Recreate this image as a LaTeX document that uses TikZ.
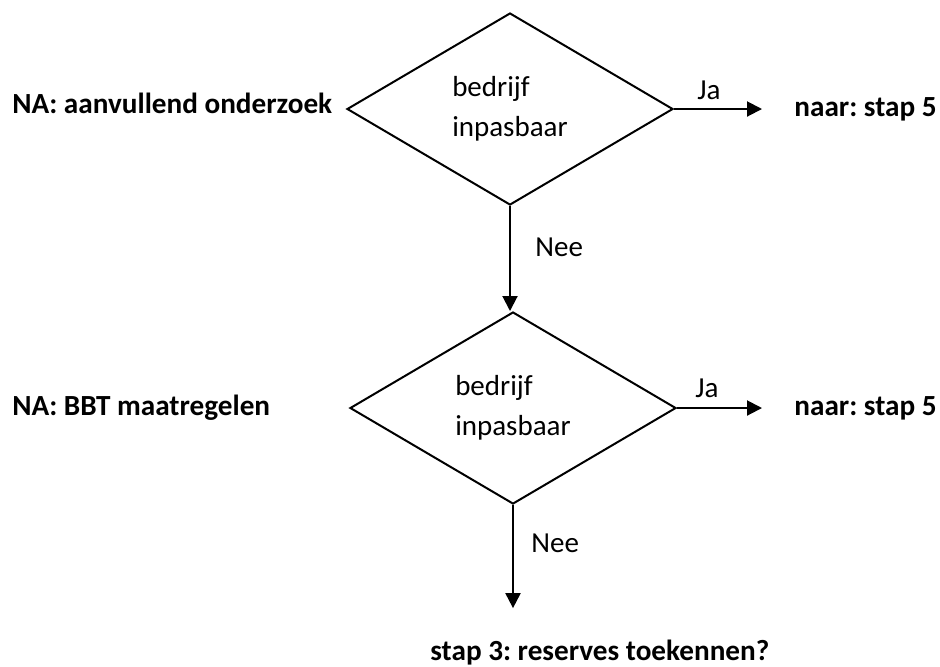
\documentclass[tikz,border=0pt]{standalone}
\usepackage{fontspec}
\setmainfont{Carlito}
\usetikzlibrary{positioning, arrows.meta, shapes.geometric}

\tikzset{
  keuze/.style={diamond, draw, line width=1pt, minimum width=163pt,
    minimum height=96pt, align=left, inner sep=0pt,
    font=\fontsize{14.5}{20}\selectfont},
  uitkomst/.style={anchor=base west, inner sep=0pt,
    font=\fontsize{14.6}{18}\selectfont\bfseries},
  antwoord/.style={anchor=base west, inner sep=0pt,
    font=\fontsize{14.5}{18}\selectfont},
  pijl/.style={-{Triangle[length=7.5pt, width=7.5pt]}, line width=1pt},
}
\frenchspacing

\begin{document}
\begin{tikzpicture}[x=0.5pt, y=-0.5pt]
    \useasboundingbox (0,0) rectangle (940,666);

    % Beslissingen
    \node[keuze] (b1) at (510,109) {bedrijf\\inpasbaar};
    \node[keuze] (b2) at (513,408) {bedrijf\\inpasbaar};

    % Uitkomsten links
    \node[uitkomst] (na1) at (12,113) {NA: aanvullend onderzoek};
    \node[uitkomst] (na2) at (12,415) {NA: BBT maatregelen};

    % Uitkomsten rechts en onder
    \node[uitkomst] (s1) at (794,116) {naar: stap 5};
    \node[uitkomst] (s2) at (794,415) {naar: stap 5};
    \node[uitkomst] (s3) at (430,660) {stap 3: reserves toekennen?};

    % Ja -> naar stap 5
    \draw[pijl, shorten >=16pt] (b1.east) -- (b1.east -| s1.west);
    \node[antwoord] (ja1) at (697,99) {Ja};
    \draw[pijl, shorten >=16pt] (b2.east) -- (b2.east -| s2.west);
    \node[antwoord] (ja2) at (695,397) {Ja};

    % Nee -> volgende stap
    \draw[pijl] (b1.south) -- (b1.south |- b2.north);
    \node[antwoord] (nee1) at (535,256) {Nee};
    \draw[pijl, shorten >=15.5pt] (b2.south) -- (b2.south |- s3.north);
    \node[antwoord] (nee2) at (531,552) {Nee};

\end{tikzpicture}
\end{document}
